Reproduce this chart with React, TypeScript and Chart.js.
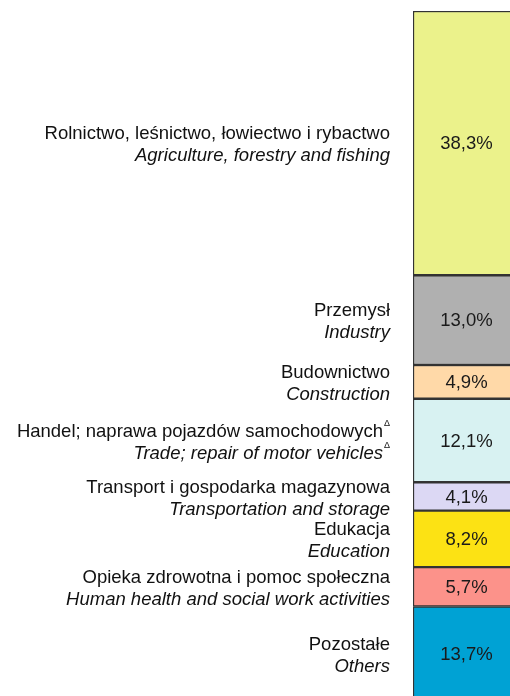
import React, { useEffect, useRef } from "react";
import { Chart, registerables } from "chart.js";

Chart.register(...registerables);

const labelsPL = [
  "Rolnictwo, leśnictwo, łowiectwo i rybactwo",
  "Przemysł",
  "Budownictwo",
  "Handel; naprawa pojazdów samochodowych",
  "Transport i gospodarka magazynowa",
  "Edukacja",
  "Opieka zdrowotna i pomoc społeczna",
  "Pozostałe",
];
const labelsEN = [
  "Agriculture, forestry and fishing",
  "Industry",
  "Construction",
  "Trade; repair of motor vehicles",
  "Transportation and storage",
  "Education",
  "Human health and social work activities",
  "Others",
];
const deltaMark = [false, false, false, true, false, false, false, false];
const values = [38.3, 13.0, 4.9, 12.1, 4.1, 8.2, 5.7, 13.7];
const valueLabels = ["38,3%", "13,0%", "4,9%", "12,1%", "4,1%", "8,2%", "5,7%", "13,7%"];
const colors = ["#ebf28b", "#b0b0b0", "#ffd9a8", "#d8f2f2", "#dcd8f4", "#fce214", "#fc928a", "#00a2d4"];

const FONT = '"Liberation Sans", Arial, sans-serif';
const FS = 18.5;

const labelPlugin = {
  id: "sideLabels",
  afterDatasetsDraw(chart: any) {
    const ctx = chart.ctx as CanvasRenderingContext2D;
    ctx.save();
    chart.data.datasets.forEach((_ds: any, i: number) => {
      const meta = chart.getDatasetMeta(i);
      const el: any = meta.data[0];
      if (!el) return;
      const cy = (el.y + el.base) / 2;
      const cx = el.x;
      ctx.fillStyle = "#1a1a1a";
      ctx.font = `${FS}px ${FONT}`;
      ctx.textAlign = "center";
      ctx.textBaseline = "middle";
      ctx.fillText(valueLabels[i], cx, cy + 1);
      const rightX = 390;
      const lines = [
        { t: labelsPL[i], f: `${FS}px ${FONT}`, y: cy - 9 },
        { t: labelsEN[i], f: `italic ${FS}px ${FONT}`, y: cy + 13 },
      ];
      lines.forEach((ln) => {
        ctx.textBaseline = "middle";
        ctx.fillStyle = "#111";
        ctx.textAlign = "right";
        if (deltaMark[i]) {
          ctx.font = `9px ${FONT}`;
          const dw = ctx.measureText("Δ").width + 1;
          ctx.fillText("Δ", rightX, ln.y - 8);
          ctx.font = ln.f;
          ctx.fillText(ln.t, rightX - dw, ln.y);
        } else {
          ctx.font = ln.f;
          ctx.fillText(ln.t, rightX, ln.y);
        }
      });
    });
    ctx.restore();
  },
};

export default function App() {
  const ref = useRef<HTMLCanvasElement>(null);
  useEffect(() => {
    if (!ref.current) return;
    const chart = new Chart(ref.current, {
      type: "bar",
      data: {
        labels: [""],
        datasets: values.map((v, i) => ({
          label: labelsEN[i],
          data: [v],
          backgroundColor: colors[i],
          borderColor: "#333",
          borderWidth: 1.5,
          borderSkipped: false,
          categoryPercentage: 1,
          barPercentage: 1,
        })),
      },
      options: {
        responsive: false,
        animation: false,
        layout: { padding: { left: 413, right: 0, top: 11, bottom: 11 } },
        plugins: { legend: { display: false }, tooltip: { enabled: false } },
        scales: {
          x: { stacked: true, display: false },
          y: { stacked: true, display: false, min: 0, max: 100, reverse: true },
        },
      },
      plugins: [labelPlugin],
    });
    return () => chart.destroy();
  }, []);
  return (
    <div style={{ position: "absolute", left: 0, top: 0, width: 510, height: 696, overflow: "hidden", background: "#fff" }}>
      <canvas ref={ref} width={520} height={712} style={{ width: 520, height: 712, display: "block" }} />
    </div>
  );
}
